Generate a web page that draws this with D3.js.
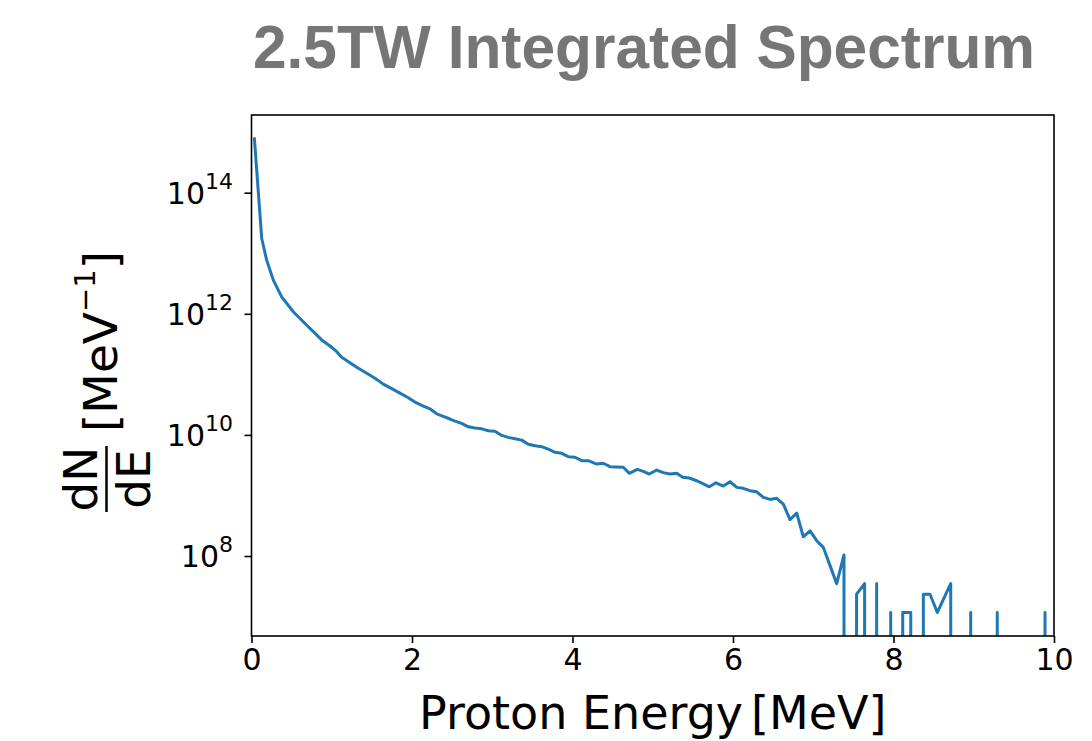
<!DOCTYPE html>
<html>
<head>
<meta charset="utf-8">
<script src="https://cdn.jsdelivr.net/npm/d3@7"></script>
<style>
  html, body { margin: 0; padding: 0; background: #fff; }
  svg { display: block; }
</style>
</head>
<body>
<div id="chart"></div>
<script>
// ---- data ----
const titleText = "2.5TW Integrated Spectrum";
const xLabelText = "Proton Energy";
const xLabelUnit = "[MeV]";
const xTicks = [0, 2, 4, 6, 8, 10];
const yTickExponents = [8, 10, 12, 14];

const energy = [0.035,0.127,0.189,0.272,0.376,0.521,0.708,0.875,0.978,1.062,1.124,1.227,1.311,1.436,1.539,1.642,1.747,1.850,1.954,2.050,
  2.141,2.224,2.308,2.390,2.474,2.536,2.619,2.702,2.785,2.869,2.951,3.034,3.118,3.200,3.283,3.367,3.449,3.533,3.616,3.698,
  3.782,3.865,3.948,4.031,4.115,4.197,4.302,4.384,4.467,4.551,4.633,4.708,4.807,4.882,4.957,5.049,5.131,5.215,5.298,5.373,
  5.455,5.548,5.630,5.705,5.788,5.879,5.963,6.046,6.128,6.212,6.295,6.378,6.461,6.545,6.627,6.710,6.794,6.876,6.960,7.043,
  7.125,7.208,7.292,7.383,
  7.46,7.54,7.64,7.71,7.79,7.87,7.965,8.04,8.115,8.215,8.29,8.372,8.455,8.546,8.713,8.80,8.88,8.962,9.04,9.21,9.293,9.37,9.80,9.888,9.97];

const dNdE = [8.2e14,1.77e13,7.7e12,3.6e12,1.9e12,1.08e12,6.1e11,3.7e11,2.94e11,2.37e11,1.91e11,1.56e11,1.31e11,1.04e11,8.6e10,6.9e10,5.8e10,4.9e10,4.1e10,3.4e10,
  3.0e10,2.7e10,2.23e10,2.02e10,1.83e10,1.69e10,1.55e10,1.36e10,1.30e10,1.26e10,1.17e10,1.15e10,9.8e9,9.1e9,8.65e9,8.2e9,7.0e9,6.6e9,6.4e9,5.8e9,
  5.15e9,4.97e9,4.37e9,4.27e9,3.75e9,3.75e9,3.3e9,3.4e9,2.99e9,2.95e9,2.92e9,2.32e9,2.7e9,2.5e9,2.26e9,2.63e9,2.38e9,2.26e9,2.32e9,2.0e9,
  1.94e9,1.75e9,1.55e9,1.39e9,1.62e9,1.43e9,1.69e9,1.36e9,1.31e9,1.20e9,1.15e9,9.3e8,8.6e8,8.97e8,7.2e8,4.0e8,5.1e8,2.08e8,2.6e8,1.79e8,
  1.39e8,7.0e7,3.5e7,1.04e8,
  0,2.34e7,3.5e7,0,3.5e7,0,1.17e7,0,1.17e7,1.17e7,0,2.34e7,2.34e7,1.17e7,3.5e7,0,0,1.17e7,0,0,1.17e7,0,0,1.17e7,0];

const xDomain = [0, 10];
const yDomain = [Math.pow(10, 6.679), Math.pow(10, 15.283)];

// ---- layout ----
const W = 1092, H = 741;
const plot = { left: 251.5, right: 1054, top: 115, bottom: 636 };
const lineColor = "#1f77b4";
const font = "'DejaVu Sans', sans-serif";

const svg = d3.select("#chart").append("svg")
  .attr("width", W).attr("height", H)
  .attr("viewBox", `0 0 ${W} ${H}`);
svg.append("rect").attr("width", W).attr("height", H).attr("fill", "#fff");

const x = d3.scaleLinear().domain(xDomain).range([plot.left, plot.right]);
const y = d3.scaleLog().domain(yDomain).range([plot.bottom, plot.top]);

// clip
svg.append("defs").append("clipPath").attr("id", "plotclip")
  .append("rect")
  .attr("x", plot.left).attr("y", plot.top)
  .attr("width", plot.right - plot.left).attr("height", plot.bottom - plot.top);

// data line (zeros are pushed far below, as a log axis with clipping does)
const pts = energy.map((e, i) => ({ e, v: dNdE[i] }));
const line = d3.line()
  .x(d => x(d.e))
  .y(d => d.v > 0 ? y(d.v) : y(1e-300));

svg.append("path")
  .datum(pts)
  .attr("clip-path", "url(#plotclip)")
  .attr("fill", "none")
  .attr("stroke", lineColor)
  .attr("stroke-width", 3)
  .attr("stroke-linejoin", "round")
  .attr("d", line);

// x axis
const xAxis = d3.axisBottom(x).tickValues(xTicks).tickSize(7).tickPadding(6)
  .tickFormat(d3.format("d"));
const gx = svg.append("g").attr("transform", `translate(0,${plot.bottom})`).call(xAxis);
gx.select(".domain").remove();
gx.selectAll(".tick line").attr("stroke", "#000").attr("stroke-width", 1.6);
gx.selectAll(".tick text").attr("font-family", font).attr("font-size", 30).attr("fill", "#000");

// y axis (ticks only, labels custom with superscripts)
const yAxis = d3.axisLeft(y).tickValues(yTickExponents.map(k => Math.pow(10, k)))
  .tickSize(7).tickFormat("");
const gy = svg.append("g").attr("transform", `translate(${plot.left},0)`).call(yAxis);
gy.select(".domain").remove();
gy.selectAll(".tick line").attr("stroke", "#000").attr("stroke-width", 1.6);

const ylab = svg.append("g");
yTickExponents.forEach(k => {
  const ty = y(Math.pow(10, k));
  const t = ylab.append("text")
    .attr("x", 233).attr("y", ty + 11)
    .attr("text-anchor", "end")
    .attr("font-family", font).attr("fill", "#000");
  t.append("tspan").attr("font-size", 30).text("10");
  t.append("tspan").attr("font-size", 22).attr("dy", -15).text(String(k));
});

// frame
svg.append("rect")
  .attr("x", plot.left).attr("y", plot.top)
  .attr("width", plot.right - plot.left).attr("height", plot.bottom - plot.top)
  .attr("fill", "none").attr("stroke", "#000").attr("stroke-width", 1.6);

// x label
const xl = svg.append("text")
  .attr("x", (plot.left + plot.right) / 2).attr("y", 729)
  .attr("text-anchor", "middle")
  .attr("font-family", font).attr("font-size", 46).attr("fill", "#000");
xl.append("tspan").text(xLabelText);
xl.append("tspan").attr("dx", 8).text(xLabelUnit);

// y label: fraction dN/dE and [MeV^-1], rotated
const yl = svg.append("g").attr("transform", "rotate(-90)")
  .attr("font-family", font).attr("fill", "#000");
const fracCenter = -479;
yl.append("text").attr("x", fracCenter).attr("y", 97)
  .attr("text-anchor", "middle").attr("font-size", 47).text("dN");
yl.append("line")
  .attr("x1", -512).attr("x2", -446).attr("y1", 106.5).attr("y2", 106.5)
  .attr("stroke", "#000").attr("stroke-width", 2.5);
yl.append("text").attr("x", fracCenter).attr("y", 150)
  .attr("text-anchor", "middle").attr("font-size", 47).text("dE");
const unit = yl.append("text").attr("x", -432).attr("y", 117).attr("font-size", 47);
unit.append("tspan").text("[MeV");
unit.append("tspan").attr("font-size", 29).attr("dy", -22).text("\u22121");
unit.append("tspan").attr("dy", 22).text("]");

// title
svg.append("text")
  .attr("x", 253).attr("y", 68)
  .attr("font-family", "'Liberation Sans', Arial, sans-serif")
  .attr("font-weight", "bold").attr("font-size", 62)
  .attr("fill", "#767676")
  .attr("textLength", 782).attr("lengthAdjust", "spacingAndGlyphs")
  .text(titleText);
</script>
</body>
</html>
